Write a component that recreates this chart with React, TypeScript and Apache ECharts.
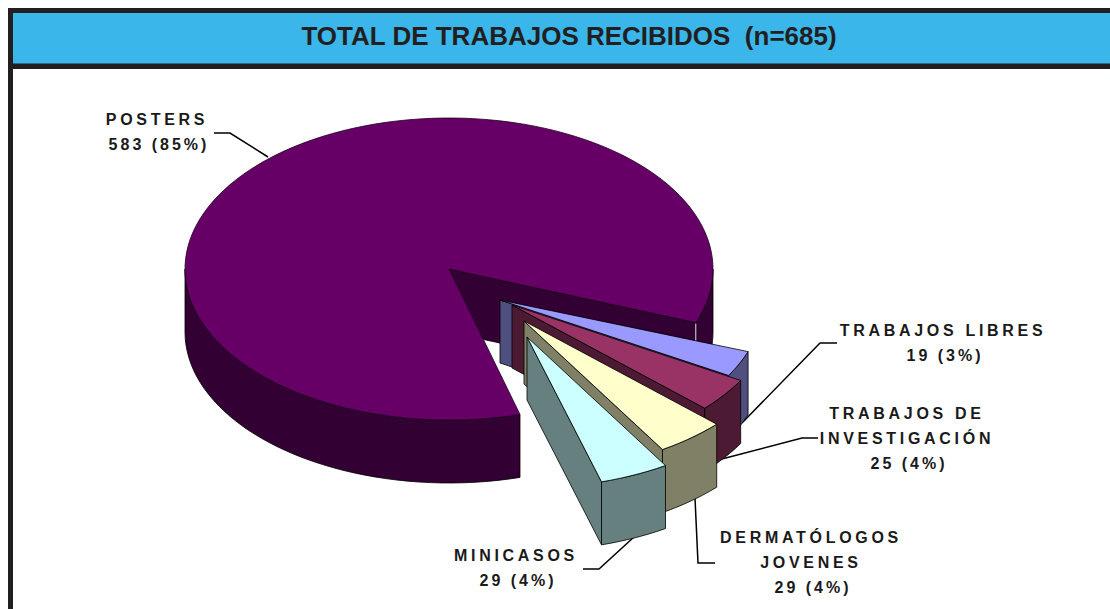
import React, { useEffect, useRef } from "react";
import * as echarts from "echarts";

const titleText = "TOTAL DE TRABAJOS RECIBIDOS  (n=685)";
const categories = ["POSTERS", "TRABAJOS LIBRES", "TRABAJOS DE\nINVESTIGACIÓN", "DERMATÓLOGOS\nJOVENES", "MINICASOS"];
const values = [583, 19, 25, 29, 29];

// Layout and styling, one entry per slice
const topColors = ["#660066", "#9999FF", "#993366", "#FFFFCC", "#CCFFFF"];
const wallColors = ["#330033", "#4F4F80", "#4D1A33", "#808066", "#668080"];
const explodeOffsets = [[0, 0], [51, 31], [63, 36], [75, 52], [78, 68]];
const labelCenters = [[157, 119], [943, 330], [907, 413], [811, 537], [516, 555]];
const leaders = [
  [[214, 133], [230, 133], [268, 157]],
  [[837, 343], [820, 343], [742, 423]],
  [[818, 438], [802, 438], [718, 460]],
  [[715, 563], [698, 563], [695, 498]],
  [[583, 569], [599, 569], [634, 537]],
];
const CX = 449, CY = 269, RX = 264, RY = 151, DEPTH = 63;
const START_DEG = 74.4;
const SMALL_SLICE_ROTATE = -0.8;
const total = values.reduce((a, b) => a + b, 0);

function arcPoints(cx: number, cy: number, t0: number, t1: number, dy = 0) {
  const n = Math.max(2, Math.ceil(Math.abs(t1 - t0) / 2.5));
  const pts: number[][] = [];
  for (let i = 0; i <= n; i++) {
    const t = ((t0 + ((t1 - t0) * i) / n) * Math.PI) / 180;
    pts.push([cx + RX * Math.cos(t), cy + RY * Math.sin(t) + dy]);
  }
  return pts;
}

export default function App() {
  const ref = useRef<HTMLDivElement>(null);
  useEffect(() => {
    document.body.style.margin = "0";
    document.body.style.overflow = "hidden";
    const chart = echarts.init(ref.current!, null, { renderer: "svg" });

    const renderItem = (params: any, api: any) => {
      const idx = params.dataIndex;
      let before = 0;
      for (let i = 0; i < idx; i++) before += values[i];
      const v = api.value(0);
      const rot = idx === 0 ? 0 : SMALL_SLICE_ROTATE;
      const t0 = START_DEG + rot + (before / total) * 360;
      const t1 = t0 + (v / total) * 360;
      const cx = CX + explodeOffsets[idx][0];
      const cy = CY + explodeOffsets[idx][1];
      const wall = wallColors[idx];
      const top = topColors[idx];
      const line = { stroke: "#000", lineWidth: 0.8, lineJoin: "round" };
      const children: any[] = [];
      const poly = (points: number[][], fill: string, st: any = line) =>
        children.push({ type: "polygon", shape: { points }, style: { fill, ...st } });

      if (idx === 0) {
        // outer wall of the large slice: front arc on the left, and the part on the right
        const endN = t1 - 360;
        const wallA = arcPoints(cx, cy, t0, 180);
        poly([...wallA, ...arcPoints(cx, cy, 180, t0, DEPTH)], wall);
        const wallB = arcPoints(cx, cy, 0, endN);
        poly([...wallB, ...arcPoints(cx, cy, endN, 0, DEPTH)], wall);
        // inner cut wall visible behind the small slices
        const e = arcPoints(cx, cy, endN, endN)[0];
        poly([[cx, cy], e, [e[0], e[1] + DEPTH], [cx, cy + DEPTH]], wall);
        children.push({
          type: "line",
          shape: { x1: e[0], y1: e[1] + 1, x2: e[0], y2: e[1] + DEPTH },
          style: { stroke: "#E8E8E8", lineWidth: 1 },
        });
        poly([[cx, cy], ...arcPoints(cx, cy, t0, t1)], top, { stroke: "#200020", lineWidth: 0.8 });
      } else {
        const e1 = arcPoints(cx, cy, t1, t1)[0];
        poly([[cx, cy], e1, [e1[0], e1[1] + DEPTH], [cx, cy + DEPTH]], wall);
        poly([...arcPoints(cx, cy, t0, t1), ...arcPoints(cx, cy, t1, t0, DEPTH)], wall);
        poly([[cx, cy], ...arcPoints(cx, cy, t0, t1)], top);
      }
      return { type: "group", children };
    };

    const labelGraphics = categories.map((name, i) => ({
      type: "text",
      x: labelCenters[i][0],
      y: labelCenters[i][1] - 12,
      silent: true,
      style: {
        text: `${name}\n${values[i]} (${Math.round((values[i] / total) * 100)}%)`,
        fill: "#1A1A1A",
        font: "bold 16px 'Liberation Sans', Arial, sans-serif",
        lineHeight: 25,
        align: "center",
        verticalAlign: "top",
      },
    }));
    const leaderGraphics = leaders.map((points) => ({
      type: "polyline",
      silent: true,
      shape: { points },
      style: { stroke: "#000", lineWidth: 1.5, fill: "none" },
    }));

    chart.setOption({
      animation: false,
      backgroundColor: "#fff",
      title: {
        text: titleText,
        left: 564,
        top: 18,
        textAlign: "center",
        textStyle: {
          color: "#231F20",
          fontSize: 26,
          fontWeight: "bold",
          fontFamily: "'Liberation Sans', Arial, sans-serif",
        },
      },
      graphic: [
        { type: "rect", shape: { x: 8, y: 8, width: 1102, height: 61 }, style: { fill: "#231F20" } },
        { type: "rect", shape: { x: 13, y: 13, width: 1097, height: 50.5 }, style: { fill: "#3AB6EA" } },
        { type: "rect", shape: { x: 8, y: 69, width: 5, height: 540 }, style: { fill: "#231F20" } },
        ...leaderGraphics,
        ...labelGraphics,
      ],
      series: [
        {
          type: "custom",
          coordinateSystem: "none",
          silent: true,
          clip: false,
          data: values.map((v) => [v]),
          renderItem,
        },
      ],
    });

    // The reference sets its slice labels in widely tracked type
    ref.current!.querySelectorAll("svg text").forEach((el: any) => {
      const s = el.textContent || "";
      if (s.startsWith("TOTAL")) {
        el.style.whiteSpace = "pre";
      } else if (/^\d/.test(s)) {
        el.style.letterSpacing = "3px";
        el.setAttribute("x", String(parseFloat(el.getAttribute("x") || "0") + 2));
      } else {
        el.style.letterSpacing = "3.7px";
      }
    });

    return () => chart.dispose();
  }, []);
  return <div ref={ref} style={{ position: "fixed", left: 0, top: 0, width: 1110, height: 609 }} />;
}
